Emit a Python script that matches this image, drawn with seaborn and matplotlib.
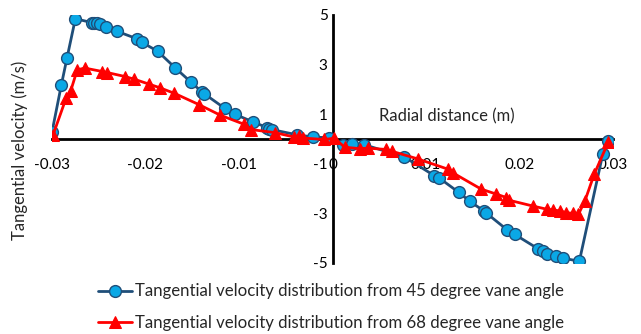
import pandas as pd
import matplotlib
matplotlib.use("Agg")
import matplotlib.pyplot as plt
import seaborn as sns

# Data
x_45 = [-0.0300, -0.0290, -0.0284, -0.0275, -0.0257, -0.0255, -0.0252, -0.0249,
        -0.0242, -0.0231, -0.0209, -0.0204, -0.0187, -0.0168, -0.0151, -0.0140,
        -0.0137, -0.0115, -0.0104, -0.0085, -0.0070, -0.0068, -0.0065, -0.0038,
        -0.0021, -0.0004, 0.0011, 0.0021, 0.0034, 0.0077, 0.0109, 0.0114,
        0.0135, 0.0147, 0.0162, 0.0164, 0.0187, 0.0195, 0.0220, 0.0225,
        0.0229, 0.0239, 0.0246, 0.0264, 0.0289, 0.0295]
v_45 = [0.28, 2.18, 3.26, 4.85, 4.69, 4.67, 4.66, 4.63,
        4.52, 4.35, 4.04, 3.90, 3.54, 2.86, 2.28, 1.91,
        1.82, 1.23, 0.99, 0.69, 0.46, 0.42, 0.38, 0.17,
        0.08, 0.05, -0.26, -0.19, -0.23, -0.73, -1.48, -1.57,
        -2.15, -2.52, -2.90, -2.97, -3.67, -3.85, -4.43, -4.52,
        -4.62, -4.73, -4.80, -4.93, -0.62, -0.08]

x_68 = [-0.0299, -0.0285, -0.0280, -0.0273, -0.0265, -0.0246, -0.0241, -0.0222,
        -0.0212, -0.0196, -0.0185, -0.0169, -0.0143, -0.0120, -0.0095, -0.0087,
        -0.0062, -0.0041, -0.0036, -0.0032, -0.0009, 0.0002, 0.0013, 0.0029,
        0.0038, 0.0057, 0.0064, 0.0091, 0.0123, 0.0129, 0.0159, 0.0175,
        0.0186, 0.0189, 0.0214, 0.0229, 0.0236, 0.0243, 0.0250, 0.0257,
        0.0263, 0.0270, 0.0280, 0.0295]
v_68 = [0.15, 1.64, 1.94, 2.79, 2.86, 2.72, 2.68, 2.52,
        2.41, 2.21, 2.07, 1.84, 1.39, 0.96, 0.60, 0.38,
        0.26, 0.08, 0.12, 0.04, -0.02, 0.03, -0.33, -0.39,
        -0.37, -0.42, -0.50, -0.80, -1.21, -1.37, -2.02, -2.22,
        -2.36, -2.47, -2.70, -2.83, -2.86, -2.90, -2.97, -3.00,
        -3.04, -2.49, -1.41, -0.12]

x_ticks = [-0.03, -0.02, -0.01, 0, 0.01, 0.02, 0.03]
x_labels = ["-0.03", "-0.02", "-0.01", "0", "0.01", "0.02", "0.03"]
y_ticks = [-5, -3, -1, 1, 3, 5]

df45 = pd.DataFrame({"x": x_45, "v": v_45})
df68 = pd.DataFrame({"x": x_68, "v": v_68})

sns.set_style("white")
plt.rcParams["font.family"] = ["Lato", "DejaVu Sans"]
plt.rcParams["axes.unicode_minus"] = False

fig = plt.figure(figsize=(6.41, 3.34), dpi=100)
ax = fig.add_axes([52 / 641, 1 - 263 / 334, 561 / 641, 248 / 334])

sns.lineplot(data=df45, x="x", y="v", ax=ax, sort=False, estimator=None,
             color="#1F4E79", linewidth=2, marker="o", markersize=8.5,
             markerfacecolor="#0AA8E6", markeredgecolor="#1F4E79",
             markeredgewidth=1, label="Tangential velocity distribution from 45 degree vane angle")
sns.lineplot(data=df68, x="x", y="v", ax=ax, sort=False, estimator=None,
             color="#FF0000", linewidth=2, marker="^", markersize=8,
             markerfacecolor="#FF0000", markeredgecolor="#FF0000",
             label="Tangential velocity distribution from 68 degree vane angle")

ax.set_xlim(-0.03, 0.03)
ax.set_ylim(-5, 5)
ax.set_xticks(x_ticks)
ax.set_xticklabels(x_labels)
ax.set_yticks(y_ticks)
ax.tick_params(length=0, labelsize=11, colors="black")
ax.tick_params(axis="x", pad=14)

# Excel-style axes crossing at zero
ax.spines["left"].set_position(("data", 0))
ax.spines["bottom"].set_position(("data", 0))
ax.spines["right"].set_visible(False)
ax.spines["top"].set_visible(False)
for s in ["left", "bottom"]:
    ax.spines[s].set_color("black")
    ax.spines[s].set_linewidth(2)
    ax.spines[s].set_zorder(1)

ax.set_xlabel("")
ax.set_ylabel("")
ax.text(0.703, 0.59, "Radial distance (m)", transform=ax.transAxes,
        ha="center", va="center", fontsize=12)
fig.text(20 / 641, 1 - 150 / 334, "Tangential velocity (m/s)", rotation=90,
         ha="center", va="center", fontsize=12)

handles, labels = ax.get_legend_handles_labels()
ax.get_legend().remove()
fig.legend(handles, labels, loc="upper left", bbox_to_anchor=(90 / 641, 1 - 275 / 334),
           frameon=False, fontsize=12.1, handlelength=2.0, handletextpad=0.15,
           labelspacing=0.9, borderpad=0)

fig.savefig("out.png", dpi=100)
